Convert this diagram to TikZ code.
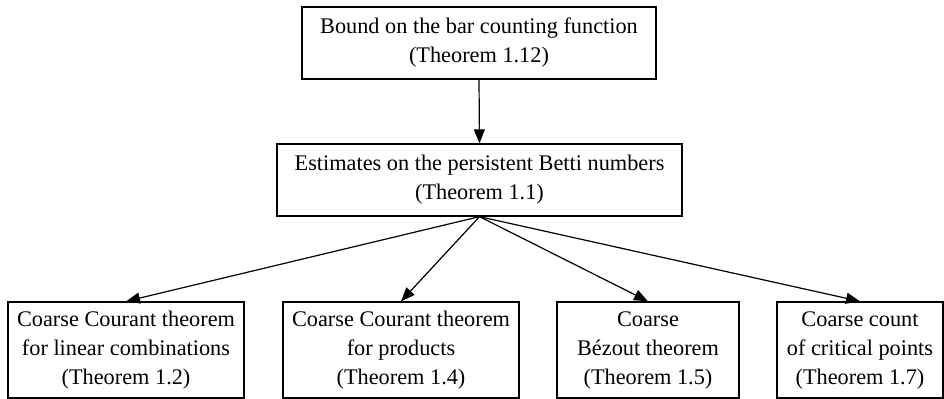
\documentclass[tikz,border=0pt]{standalone}
\usepackage{fontspec}
\setmainfont{Liberation Serif}
\usetikzlibrary{arrows.meta,positioning}

\begin{document}
\begin{tikzpicture}[x=0.5pt,y=-0.5pt,
  font=\fontsize{11.15}{14.5}\selectfont,
  thm/.style={draw,line width=0.65pt,align=center,inner sep=0pt,minimum height=36pt},
  res/.style={thm,minimum height=48pt},
  imp/.style={-{Triangle[length=7pt,width=5.5pt]},line width=0.6pt}]
  \useasboundingbox (0,0) rectangle (944,399);
  % bar counting
  \node[thm,minimum width=177pt] (bar) at (479,43) {Bound on the bar counting function\\(Theorem 1.12)};
  % persistent Betti numbers
  \node[thm,minimum width=202.5pt] (betti) at (479.5,180) {Estimates on the persistent Betti numbers\\(Theorem 1.1)};
  \draw[imp] (bar.south) -- (betti.north);
  % consequences
  \node[res,minimum width=118pt] (lin) at (126,350) {Coarse Courant theorem\\for linear combinations\\(Theorem 1.2)};
  \node[res,minimum width=118pt] (prod) at (401,350) {Coarse Courant theorem\\for products\\(Theorem 1.4)};
  \node[res,minimum width=91pt] (bez) at (648,350) {Coarse\\B\'ezout theorem\\(Theorem 1.5)};
  \node[res,minimum width=83pt] (crit) at (860,350) {Coarse count\\of critical points\\(Theorem 1.7)};
  \draw[imp] (betti.south) -- (lin.north);
  \draw[imp] (betti.south) -- (prod.north);
  \draw[imp] (betti.south) -- (bez.north);
  \draw[imp] (betti.south) -- (crit.north);
\end{tikzpicture}
\end{document}
